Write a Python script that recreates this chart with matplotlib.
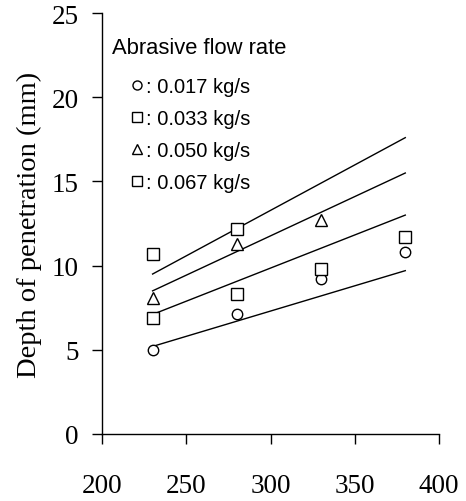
import matplotlib.pyplot as plt
from matplotlib.lines import Line2D

# Traverse speed (mm/min) at which each depth was measured
speed = [230, 280, 330, 380]

# Measured depth of penetration (mm) for each abrasive flow rate
depth_017 = [5.0, 7.1, 9.2, 10.8]
depth_033 = [6.9, 8.3, 9.8, 11.7]
depth_050 = [8.1, 11.3, 12.7]
depth_067 = [10.7, 12.2]

# Predicted depth (mm) at the ends of the speed range
fit_speed = [230, 380]
fit_017 = [5.2, 9.7]
fit_033 = [7.1, 13.0]
fit_050 = [8.5, 15.5]
fit_067 = [9.5, 17.6]

flow_labels = [': 0.017 kg/s', ': 0.033 kg/s', ': 0.050 kg/s', ': 0.067 kg/s']
markers = ['o', 's', '^', 's']

serif = 'Liberation Serif'
sans = 'Liberation Sans'

fig = plt.figure(figsize=(4.66, 5.02), dpi=100)
ax = fig.add_axes([0.219, 0.1335, 0.723, 0.8385])

for fit in [fit_017, fit_033, fit_050, fit_067]:
    ax.plot(fit_speed, fit, color='black', lw=1.0, zorder=2)

series = [depth_017, depth_033, depth_050, depth_067]
for depth, m in zip(series, markers):
    ax.plot(speed[:len(depth)], depth, linestyle='none', marker=m,
            markersize=8 if m != 'o' else 7.5, markerfacecolor='white',
            markeredgecolor='black', markeredgewidth=1.0, zorder=3,
            clip_on=False)

ax.set_xlim(200, 400)
ax.set_ylim(0, 25)
ax.set_xticks([200, 250, 300, 350, 400])
ax.set_yticks([0, 5, 10, 15, 20, 25])

for side in ['top', 'right']:
    ax.spines[side].set_visible(False)
for side in ['left', 'bottom']:
    ax.spines[side].set_linewidth(1.0)

ax.tick_params(axis='both', direction='out', length=7, width=1.0)
ax.tick_params(axis='x', pad=21)
ax.tick_params(axis='y', pad=10)
for lbl in ax.get_xticklabels() + ax.get_yticklabels():
    lbl.set_fontfamily(serif)
    lbl.set_fontsize(19.5)

ax.set_ylabel('Depth of penetration (mm)', fontfamily=serif, fontsize=20.5)
ax.yaxis.set_label_coords(-0.178, 0.5)

# Legend heading, then the marker key indented beneath it
ax.text(0.03, 0.905, 'Abrasive flow rate', transform=ax.transAxes,
        fontfamily=sans, fontsize=15.8, va='baseline', ha='left')

handles = [Line2D([], [], linestyle='none', marker=m, markersize=6.5,
                  markerfacecolor='white', markeredgecolor='black',
                  markeredgewidth=1.0) for m in markers]
ax.legend(handles, flow_labels, loc='upper left',
          bbox_to_anchor=(0.087, 0.847), frameon=False, handlelength=0.58,
          handletextpad=0.15, labelspacing=0.645, borderpad=0.0,
          borderaxespad=0.0, prop={'family': sans, 'size': 14.5})

fig.savefig('out.png', dpi=100)
